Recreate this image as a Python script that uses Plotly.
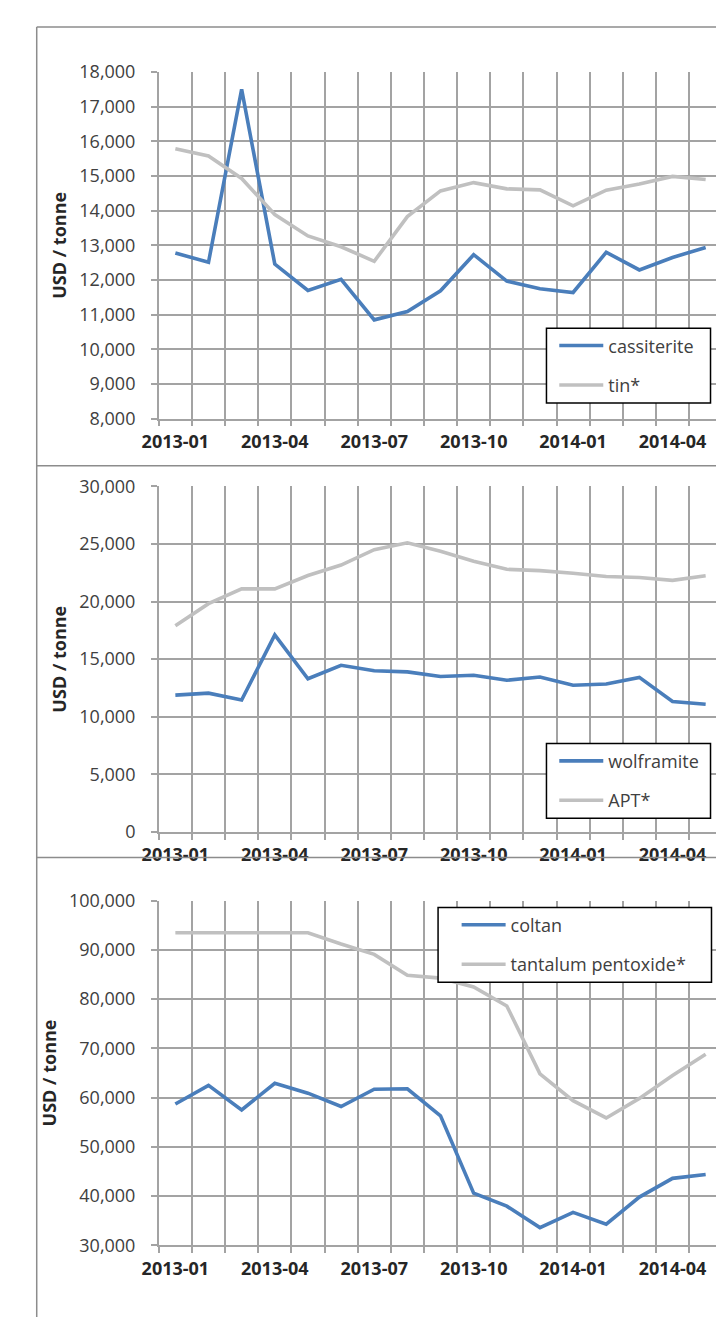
import plotly.graph_objects as go

months = ["2013-01", "2013-02", "2013-03", "2013-04", "2013-05", "2013-06",
          "2013-07", "2013-08", "2013-09", "2013-10", "2013-11", "2013-12",
          "2014-01", "2014-02", "2014-03", "2014-04", "2014-05"]
tick_labels = ["2013-01", "", "", "2013-04", "", "", "2013-07", "", "",
               "2013-10", "", "", "2014-01", "", "", "2014-04", ""]

cassiterite = [12780, 12510, 17500, 12460, 11700, 12020, 10850, 11090, 11690,
               12730, 11970, 11750, 11640, 12800, 12290, 12650, 12940]
tin = [15790, 15580, 14930, 13890, 13270, 12960, 12540, 13830, 14570,
       14810, 14630, 14600, 14140, 14590, 14770, 14990, 14900]

wolframite = [11880, 12050, 11460, 17100, 13300, 14470, 14000, 13900, 13500,
              13600, 13170, 13450, 12740, 12850, 13420, 11320, 11090]
apt = [17900, 19820, 21100, 21100, 22260, 23170, 24510, 25100, 24370,
       23510, 22800, 22690, 22460, 22180, 22090, 21840, 22240]

coltan = [58700, 62500, 57500, 62900, 60900, 58200, 61700, 61800, 56300,
          40600, 37950, 33600, 36700, 34300, 39800, 43600, 44400]
tantalum = [93500, 93500, 93500, 93500, 93500, 91200, 89100, 84870, 84270,
            82480, 78630, 64830, 59390, 55870, 59850, 64500, 68810]

W, H = 724, 1320
BLUE = "#4a7ebb"
GREY = "#c0c0c0"
GRID = "#a3a3a3"
FONT = "Open Sans"

def px_x(v):
    return v / W

def px_y(v):
    return 1 - v / H

panels = [
    # (series, y range, dtick, plot top px, plot bottom px, legend box x0,y0,x1,y1, entry inset)
    ([("cassiterite", cassiterite, BLUE), ("tin*", tin, GREY)], [8000, 18000], 1000, 52, 405, (534, 313, 702, 389), 8),
    ([("wolframite", wolframite, BLUE), ("APT*", apt, GREY)], [0, 30000], 5000, 474, 826, (534, 736, 702, 812), 8),
    ([("coltan", coltan, BLUE), ("tantalum pentoxide*", tantalum, GREY)], [30000, 100000], 10000, 896, 1247, (423, 903, 703, 979), 19),
]

fig = go.Figure()
layout = dict(
    width=W, height=H,
    margin=dict(l=0, r=0, t=0, b=0),
    paper_bgcolor="white", plot_bgcolor="white",
    font=dict(family=FONT, size=18, color="#404040"),
    showlegend=True,
)
shapes = []

X0, X1 = 137, 714
for i, (series, yr, dt, top, bot, (bx0, by0, bx1, by1), inset) in enumerate(panels):
    n = "" if i == 0 else str(i + 1)
    xa, ya = "x" + n, "y" + n
    lg = "legend" + n
    for name, vals, col in series:
        fig.add_trace(go.Scatter(
            x=months, y=vals, name=name, mode="lines",
            line=dict(color=col, width=3.6),
            xaxis=xa, yaxis=ya, legend=lg, legendgroup=name + n,
        ))
    layout["xaxis" + n] = dict(
        domain=[px_x(X0), px_x(X1)], anchor=ya,
        type="category", categoryorder="array", categoryarray=months,
        range=[-0.5, len(months) - 0.5],
        tickmode="array", tickvals=months, ticktext=tick_labels,
        tickson="boundaries", ticks="outside", ticklen=6, tickcolor=GRID, tickwidth=1.5,
        showgrid=True, gridcolor=GRID, gridwidth=1.5,
        showline=True, linecolor=GRID, linewidth=1.5,
        tickfont=dict(family=FONT, size=18, color="#262626", weight="bold"),
        ticklabelstandoff=6,
        tickangle=0,
    )
    layout["yaxis" + n] = dict(
        domain=[px_y(bot), px_y(top)], anchor=xa,
        range=yr, dtick=dt, tick0=0, tickformat=",d",
        ticks="outside", ticklen=6, tickcolor=GRID, tickwidth=1.5,
        showgrid=True, gridcolor=GRID, gridwidth=1.5,
        showline=True, linecolor=GRID, linewidth=1.5,
        zeroline=False,
        tickfont=dict(family=FONT, size=18, color="#404040"),
        ticklabelstandoff=12,
        title=dict(text="USD / tonne", standoff=8,
                   font=dict(family=FONT, size=18, color="#262626", weight="bold")),
    )
    # legend frame drawn as a white box above the lines; legend entries on top of it
    shapes.append(dict(type="rect", xref="paper", yref="paper", layer="above",
                       x0=px_x(bx0), x1=px_x(bx1), y0=px_y(by1), y1=px_y(by0),
                       fillcolor="white", line=dict(color="#000000", width=1.5)))
    layout[lg] = dict(
        x=px_x(bx0 + inset), y=px_y(by0 - 1), xanchor="left", yanchor="top",
        bgcolor="rgba(0,0,0,0)", borderwidth=0,
        font=dict(family=FONT, size=18, color="#404040"),
        tracegroupgap=13, traceorder="grouped",
        itemwidth=44,
    )

shape_line = dict(color="#8c8c8c", width=1.5)
shapes += [
    dict(type="line", xref="paper", yref="paper", x0=px_x(12), x1=1, y0=px_y(6), y1=px_y(6), line=shape_line),
    dict(type="line", xref="paper", yref="paper", x0=px_x(12), x1=px_x(12), y0=px_y(6), y1=0, line=shape_line),
    dict(type="line", xref="paper", yref="paper", x0=px_x(12), x1=1, y0=px_y(453), y1=px_y(453), line=shape_line),
    dict(type="line", xref="paper", yref="paper", x0=px_x(12), x1=1, y0=px_y(852), y1=px_y(852), line=shape_line),
]
layout["shapes"] = shapes

fig.update_layout(**layout)
fig.write_html("out.html")
